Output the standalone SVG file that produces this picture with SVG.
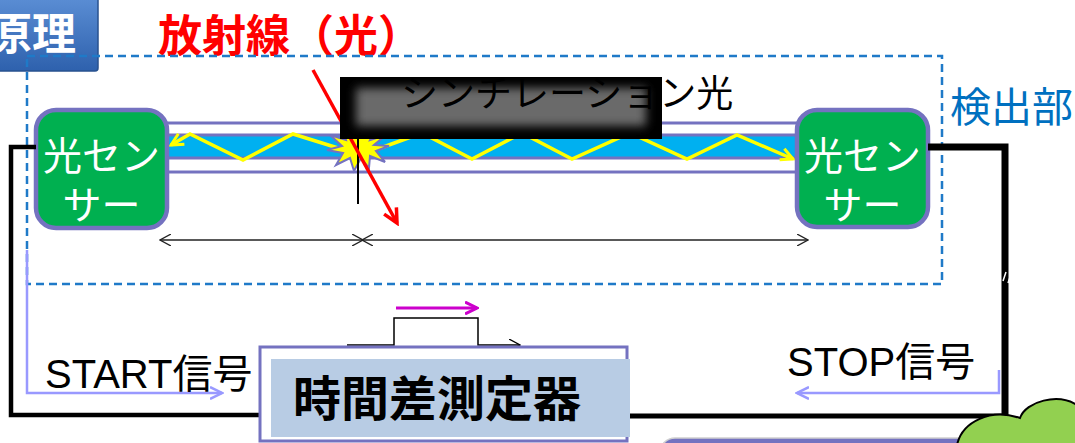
<svg xmlns="http://www.w3.org/2000/svg" width="1075" height="443" viewBox="0 0 1075 443">
  <style>
    .jp { font-family: "Noto Sans CJK JP", "Noto Sans", sans-serif; }
    .lat { font-family: "Liberation Sans", "Noto Sans CJK JP", sans-serif; }
    .sensor-box { fill: #00b050; stroke: #7472c0; stroke-width: 4.5; }
    .sensor-text { fill: #ffffff; font-size: 39px; text-anchor: middle; }
    .tube { fill: #ffffff; stroke: #7472c0; stroke-width: 3; }
    .core { fill: #00b0f0; stroke: #7472c0; stroke-width: 3; }
    .ray { fill: none; stroke: #ffff00; stroke-width: 3.5; stroke-linejoin: miter; }
    .wire { fill: none; stroke: #000000; stroke-linejoin: miter; }
    .signal { fill: none; stroke: #9999ff; stroke-width: 2.5; }
    .dim { fill: none; stroke: #222222; stroke-width: 1.3; }
    .frame { fill: none; stroke: #1f7ac8; stroke-width: 2.5; stroke-dasharray: 8 5; }
  </style>
  <defs>
    <linearGradient id="titleFill" x1="0" y1="0" x2="0" y2="1">
      <stop offset="0" stop-color="#5f92d8"/>
      <stop offset="1" stop-color="#2e61ad"/>
    </linearGradient>
    <filter id="soft" x="-20%" y="-40%" width="140%" height="180%">
      <feGaussianBlur stdDeviation="5"/>
    </filter>
    <marker id="dimHead" viewBox="0 0 12 12" refX="11" refY="6" markerWidth="12" markerHeight="12" markerUnits="userSpaceOnUse" orient="auto-start-reverse">
      <path d="M0,0 L11,6 L0,12" fill="none" stroke="#222222" stroke-width="1.3"/>
    </marker>
    <marker id="redHead" viewBox="0 0 18 18" refX="15" refY="9" markerWidth="18" markerHeight="18" markerUnits="userSpaceOnUse" orient="auto">
      <path d="M1,2 L15,9 L1,16" fill="none" stroke="#ff0000" stroke-width="3.5"/>
    </marker>
    <marker id="yellowHead" viewBox="0 0 16 16" refX="13" refY="8" markerWidth="16" markerHeight="16" markerUnits="userSpaceOnUse" orient="auto">
      <path d="M1,2 L13,8 L1,14" fill="none" stroke="#ffff00" stroke-width="3"/>
    </marker>
    <marker id="sigHead" viewBox="0 0 14 14" refX="12" refY="7" markerWidth="14" markerHeight="14" markerUnits="userSpaceOnUse" orient="auto">
      <path d="M0,1 L12,7 L0,13" fill="none" stroke="#9999ff" stroke-width="2.5"/>
    </marker>
    <marker id="magHead" viewBox="0 0 14 14" refX="12" refY="7" markerWidth="14" markerHeight="14" markerUnits="userSpaceOnUse" orient="auto">
      <path d="M0,1 L12,7 L0,13" fill="none" stroke="#cc00cc" stroke-width="3"/>
    </marker>
    <marker id="thinHead" viewBox="0 0 12 12" refX="11" refY="6" markerWidth="12" markerHeight="12" markerUnits="userSpaceOnUse" orient="auto">
      <path d="M0,0 L11,6 L0,12" fill="none" stroke="#000000" stroke-width="1.3"/>
    </marker>
  </defs>

  <rect width="1075" height="443" fill="#ffffff"/>

  <!-- section heading tab -->
  <g id="title">
    <rect x="-10" y="-10" width="108" height="81" rx="3" fill="url(#titleFill)" stroke="#28528f" stroke-width="1.5"/>
    <text class="jp" x="76" y="50" font-size="44" font-weight="bold" fill="#ffffff" text-anchor="end">原理</text>
  </g>

  <!-- radiation label -->
  <g id="radiation-label">
    <text class="jp" x="158" y="52" font-size="44" font-weight="bold" fill="#ff0000">放射線（光）</text>
  </g>

  <!-- detector frame -->
  <g id="detector">
    <rect class="frame" x="27" y="56" width="915" height="228"/>
    <text class="jp" x="950" y="122" font-size="41" fill="#0070c0">検出部</text>
  </g>

  <!-- optical fibre with scintillation light -->
  <g id="fiber">
    <rect class="tube" x="150" y="123" width="660" height="49"/>
    <rect class="core" x="150" y="135" width="660" height="23"/>
    <polyline class="ray" points="338,148 293,134 243,160 190,134 171,145" marker-end="url(#yellowHead)"/>
    <polyline class="ray" points="375,150 422,133 472,159 522,133 572,159 630,133 687,159 737,135 793,159" marker-end="url(#yellowHead)"/>
    <polygon points="389,146 376,151 385,162 370,156 369,168 361,158 354,171 350,158 336,165 343,153 327,150 342,146 330,135 346,140 342,126 352,136 360,124 364,137 376,127 370,140 386,135 374,145" fill="#ffff00" stroke="#7472c0" stroke-width="2"/>
    <line x1="358" y1="135" x2="358" y2="204" stroke="#000000" stroke-width="2"/>
  </g>

  <!-- incoming radiation ray -->
  <g id="radiation-ray">
    <line x1="313" y1="70" x2="397" y2="223" stroke="#ff0000" stroke-width="3.5" marker-end="url(#redHead)"/>
  </g>

  <!-- scintillation light label -->
  <g id="scint-label">
    <rect x="340" y="77" width="322" height="62" fill="#000000"/>
    <rect x="356" y="88" width="290" height="38" fill="#6a6a6a" filter="url(#soft)"/>
    <text class="jp" x="401" y="107" font-size="37" fill="#000000">シンチレーション光</text>
  </g>

  <!-- photo sensors -->
  <g id="sensor-left">
    <rect class="sensor-box" x="36" y="110" width="131" height="118" rx="20"/>
    <text class="jp sensor-text" x="101.5" y="170">光セン</text>
    <text class="jp sensor-text" x="101.5" y="219">サー</text>
  </g>
  <g id="sensor-right">
    <rect class="sensor-box" x="797" y="110" width="131" height="117" rx="20"/>
    <text class="jp sensor-text" x="862.5" y="170">光セン</text>
    <text class="jp sensor-text" x="862.5" y="219">サー</text>
  </g>

  <!-- wiring, signals and distance marks -->
  <g id="connectors">
    <path class="wire" d="M36,147 H11 V415 H270" stroke-width="4.5"/>
    <path class="wire" d="M928,147 H1005 V416" stroke-width="7"/>
    <path class="wire" d="M620,416 H1008" stroke-width="5"/>
    <path d="M1003,281 L1006,272 M1008,283 L1011,274" stroke="#ffffff" stroke-width="1.5"/>
    <polyline class="signal" points="27,250 27,393 222,393" marker-end="url(#sigHead)"/>
    <polyline class="signal" points="999,370 999,393 797,393" marker-end="url(#sigHead)"/>
    <line class="dim" x1="160" y1="240" x2="363" y2="240" marker-start="url(#dimHead)" marker-end="url(#dimHead)"/>
    <line class="dim" x1="362" y1="240" x2="808" y2="240" marker-start="url(#dimHead)" marker-end="url(#dimHead)"/>
  </g>

  <g id="start-label">
    <text class="lat" x="45" y="388" font-size="40" fill="#000000">START信号</text>
  </g>
  <g id="stop-label">
    <text class="lat" x="787" y="376" font-size="40" fill="#000000">STOP信号</text>
  </g>

  <!-- time difference meter -->
  <g id="timer">
    <polyline points="347,345 394,345 394,318 478,318 478,345 520,345" fill="none" stroke="#000000" stroke-width="1.5" marker-end="url(#thinHead)"/>
    <line x1="396" y1="308" x2="477" y2="308" stroke="#cc00cc" stroke-width="3" marker-end="url(#magHead)"/>
    <rect x="260" y="347" width="367" height="94" fill="#ffffff" stroke="#7472c0" stroke-width="3"/>
    <rect x="271" y="359" width="359" height="78" fill="#b8cce4"/>
    <text class="jp" x="293" y="416" font-size="48" font-weight="bold" fill="#000000">時間差測定器</text>
  </g>

  <!-- shapes cut by the lower edge -->
  <g id="lower-shape">
    <rect x="660" y="438" width="330" height="30" rx="15" fill="#7472c0" stroke="#d0d0d0" stroke-width="1.5"/>
  </g>
  <g id="cloud">
    <path d="M957,445 C962,422 990,408 1020,418 C1026,401 1058,393 1077,405 V445 Z" fill="#92d050" stroke="#000000" stroke-width="2"/>
  </g>
</svg>
